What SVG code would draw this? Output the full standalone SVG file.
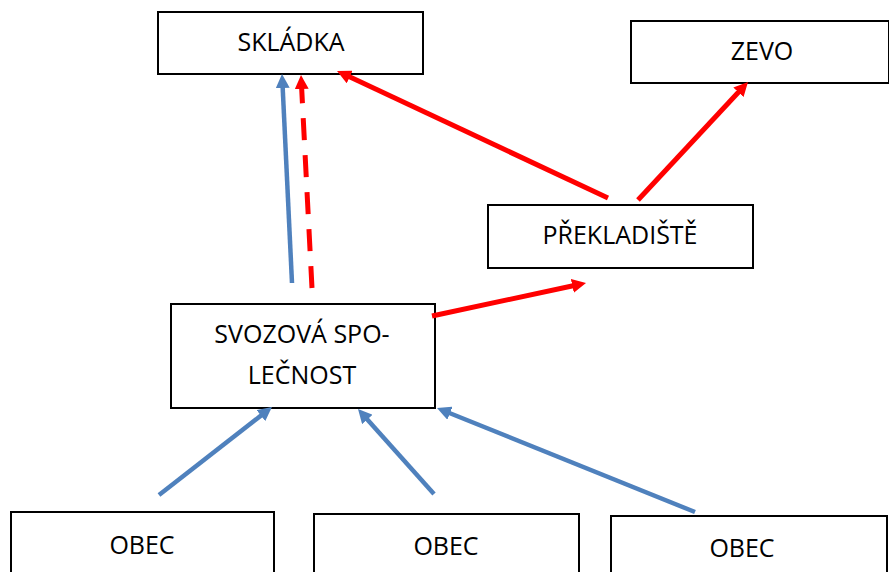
<svg xmlns="http://www.w3.org/2000/svg" width="889" height="572" viewBox="0 0 889 572">
<style>
.box{fill:#fff;stroke:#000;stroke-width:2}
.lbl{font-family:"Open Sans","Liberation Sans",sans-serif;font-size:25px;fill:#000;text-anchor:middle}
.blue{stroke:#4F81BD;stroke-width:4.5;fill:none}
.red{stroke:#FF0000;stroke-width:5;fill:none}
</style>
<defs>
<marker id="ab" markerUnits="userSpaceOnUse" markerWidth="16" markerHeight="14" refX="2" refY="7" orient="auto"><path d="M0,0 L14,7 L0,14 z" fill="#4F81BD"/></marker>
<marker id="ar" markerUnits="userSpaceOnUse" markerWidth="16" markerHeight="14" refX="2" refY="7" orient="auto"><path d="M0,0 L14,7 L0,14 z" fill="#FF0000"/></marker>
</defs>
<rect width="889" height="572" fill="#fff"/>
<g id="skladka"><rect class="box" x="158" y="12" width="265" height="62"/><text class="lbl" x="291" y="51">SKLÁDKA</text></g>
<g id="zevo"><rect class="box" x="631" y="21" width="258" height="62"/><text class="lbl" x="762" y="60">ZEVO</text></g>
<g id="prekladiste"><rect class="box" x="488" y="205" width="265" height="63"/><text class="lbl" x="620" y="244">PŘEKLADIŠTĚ</text></g>
<g id="svoz"><rect class="box" x="171" y="304" width="264" height="104"/><text class="lbl" x="302" y="343">SVOZOVÁ SPO-</text><text class="lbl" x="302" y="384">LEČNOST</text></g>
<g id="obec1"><rect class="box" x="11" y="512" width="263" height="70"/><text class="lbl" x="142" y="554">OBEC</text></g>
<g id="obec2"><rect class="box" x="314" y="514" width="265" height="70"/><text class="lbl" x="446" y="555">OBEC</text></g>
<g id="obec3"><rect class="box" x="611" y="516" width="276" height="70"/><text class="lbl" x="742" y="557">OBEC</text></g>
<g id="connectors">
<line class="blue" x1="292" y1="283" x2="282.6" y2="86" marker-end="url(#ab)"/>
<line class="red" x1="312" y1="288" x2="301.6" y2="87" stroke-dasharray="22 15" marker-end="url(#ar)"/>
<line class="red" x1="608" y1="198" x2="347.9" y2="76.1" marker-end="url(#ar)"/>
<line class="red" x1="638" y1="200" x2="739.8" y2="90.8" marker-end="url(#ar)"/>
<line class="red" x1="432" y1="316" x2="574.3" y2="285.5" marker-end="url(#ar)"/>
<line class="blue" x1="159" y1="495" x2="262.5" y2="414.4" marker-end="url(#ab)"/>
<line class="blue" x1="434" y1="494" x2="366" y2="418" marker-end="url(#ab)"/>
<line class="blue" x1="695" y1="512" x2="448.1" y2="412.5" marker-end="url(#ab)"/>
</g>
</svg>
